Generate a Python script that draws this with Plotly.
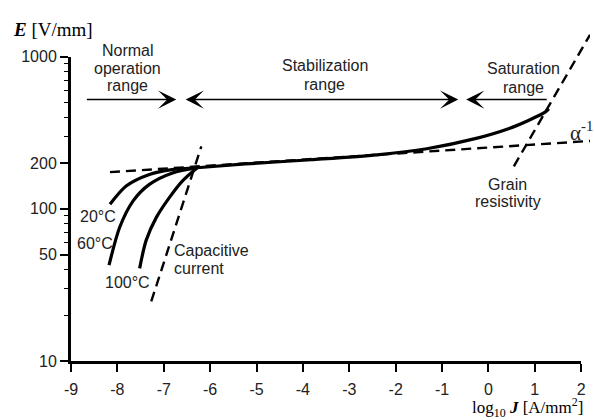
import math
import plotly.graph_objects as go

# ---------------- data ----------------
main_x = [-6.28, -5.24, -3.82, -2.40, -1.33, -0.265, 0.447, 0.874, 1.23, 1.30]
main_E = [186, 197, 210, 226, 248, 290, 337, 382, 433, 455]

t20_x = [-8.16, -7.81, -7.31, -6.82, -6.28]
t20_E = [107, 141, 168, 181, 186]
t60_x = [-8.18, -7.95, -7.66, -7.31, -6.81, -6.28]
t60_E = [42.6, 75.6, 112.7, 144.6, 172, 186]
t100_x = [-7.52, -7.38, -7.16, -6.88, -6.60, -6.28]
t100_E = [40.6, 62, 87.8, 118.4, 152, 186]

alpha_x = [-8.16, 2.19]
alpha_E = [174, 279]
grain_x = [0.548, 2.19]
grain_E = [190, 1390]
cap_x = [-7.27, -6.19]
cap_E = [24.6, 256.6]

x_ticks = [-9, -8, -7, -6, -5, -4, -3, -2, -1, 0, 1, 2]
x_ticktext = ["-9", "-8", "-7", "-6", "-5", "-4", "-3", "-2", "-1", "0", "1", "2"]
y_ticks = [10, 50, 100, 200, 1000]
y_ticktext = ["10", "50", "100", "200", "1000"]
y_minor = [20, 30, 40, 60, 70, 80, 90, 300, 400, 500, 600, 700, 800, 900]

# range arrows: (tail, head) in log10 J ; level in E
arrow_level = 522
normal_arrow = (-8.69, -6.73)
stab_arrow = (-6.56, -0.65)
sat_arrow = (1.29, -0.48)

# ---------------- figure ----------------
W, H = 595, 420
L, R, T, B = 71, 0, 5, 59
XR = [-9, 2.19]
YR = [1, 3.319]

fig = go.Figure()

solid = dict(color="black", width=3.2, shape="spline", smoothing=0.8)
dash = dict(color="black", width=2.4, dash="10px,6px")

for xs, ys in [(t20_x, t20_E), (t60_x, t60_E), (t100_x, t100_E), (main_x, main_E)]:
    fig.add_trace(go.Scatter(x=xs, y=ys, mode="lines", line=solid,
                             showlegend=False, hoverinfo="skip"))
for xs, ys in [(alpha_x, alpha_E), (grain_x, grain_E), (cap_x, cap_E)]:
    fig.add_trace(go.Scatter(x=xs, y=ys, mode="lines", line=dash,
                             showlegend=False, hoverinfo="skip"))

# dummy trace for the visible axes pair
fig.add_trace(go.Scatter(x=[-9], y=[10], xaxis="x2", yaxis="y2", mode="markers",
                         marker=dict(opacity=0), showlegend=False, hoverinfo="skip"))

plot_w = W - L - R
plot_h = H - T - B
x2_dom = (2 - XR[0]) / (XR[1] - XR[0])
y2_dom = (3 - YR[0]) / (YR[1] - YR[0])

sans = "Liberation Sans, Arial, sans-serif"
serif = "Liberation Serif, Times New Roman, serif"
txtc = "#222"

ann = []
ly = math.log10(arrow_level)
arrow_common = dict(xref="x", yref="y", axref="x", ayref="y", text="", showarrow=True,
                    arrowhead=3, arrowsize=1.9, arrowwidth=1.6, arrowcolor="black",
                    standoff=0, startstandoff=0)
ann.append(dict(x=normal_arrow[1], y=ly, ax=normal_arrow[0], ay=ly, **arrow_common))
ann.append(dict(x=stab_arrow[1], y=ly, ax=stab_arrow[0], ay=ly, arrowside="end+start",
                startarrowhead=3, startarrowsize=1.9, **arrow_common))
ann.append(dict(x=sat_arrow[1], y=ly, ax=sat_arrow[0], ay=ly, **arrow_common))


def label(lines, x, ly_c, xanchor="center", spacing=17.5, size=16):
    n = len(lines)
    for k, s in enumerate(lines):
        ann.append(dict(x=x, y=ly_c, xref="x", yref="y", text=s, showarrow=False,
                        xanchor=xanchor, yanchor="middle", align=xanchor if xanchor != "center" else "center",
                        yshift=-(k - (n - 1) / 2) * spacing,
                        font=dict(family=sans, size=size, color=txtc)))


label(["Normal", "operation", "range"], -7.777, 2.922)
label(["Stabilization", "range"], -3.53, 2.879, spacing=18.5)
label(["Saturation", "range"], 0.761, 2.860, spacing=19)
label(["20°C"], -8.415, 1.951)
label(["60°C"], -8.48, 1.769)
label(["100°C"], -7.777, 1.515)
label(["Capacitive", "current"], -6.823, 1.664, xanchor="left", spacing=18)
label(["Grain", "resistivity"], 0.413, 2.104, spacing=17.5)

ann.append(dict(x=1.72, y=2.505, xref="x", yref="y", text="α<sup>-1</sup>", showarrow=False,
                xanchor="left", yanchor="middle", font=dict(family=serif, size=21, color=txtc)))

# axis titles
ann.append(dict(x=(10 - L) / plot_w, y=(H - B - 27) / plot_h, xref="paper", yref="paper",
                text="<b><i>E</i></b> [V/mm]", showarrow=False, xanchor="left", yanchor="middle",
                font=dict(family=serif, size=19, color="black")))
ann.append(dict(x=(590 - L) / plot_w, y=(H - B - 408) / plot_h, xref="paper", yref="paper",
                text="log<sub>10</sub> <b><i>J</i></b> [A/mm<sup>2</sup>]", showarrow=False,
                xanchor="right", yanchor="middle",
                font=dict(family=serif, size=17, color="black")))

fig.update_layout(
    width=W, height=H,
    margin=dict(l=L, r=R, t=T, b=B),
    paper_bgcolor="white", plot_bgcolor="rgba(0,0,0,0)",
    showlegend=False,
    xaxis=dict(domain=[0, 1], range=XR, visible=False, fixedrange=True),
    yaxis=dict(domain=[0, 1], range=YR, type="log", visible=False, fixedrange=True),
    xaxis2=dict(domain=[0, x2_dom], range=[XR[0], 2], anchor="y2",
                showline=True, linecolor="black", linewidth=3,
                ticks="outside", ticklen=8, tickwidth=1.5, tickcolor="black",
                tickvals=x_ticks, ticktext=x_ticktext, showgrid=False, zeroline=False,
                tickfont=dict(family=sans, size=16, color=txtc), ticklabelstandoff=4),
    yaxis2=dict(domain=[0, y2_dom], range=[1, 3], type="log", anchor="x2",
                showline=True, linecolor="black", linewidth=3,
                ticks="outside", ticklen=8, tickwidth=1.5, tickcolor="black",
                tickvals=y_ticks, ticktext=y_ticktext, showgrid=False, zeroline=False,
                minor=dict(tickvals=y_minor, ticks="outside", ticklen=4, tickwidth=1.2,
                           tickcolor="black", showgrid=False),
                tickfont=dict(family=sans, size=16, color=txtc)),
    annotations=ann,
)

fig.write_html("out.html")
